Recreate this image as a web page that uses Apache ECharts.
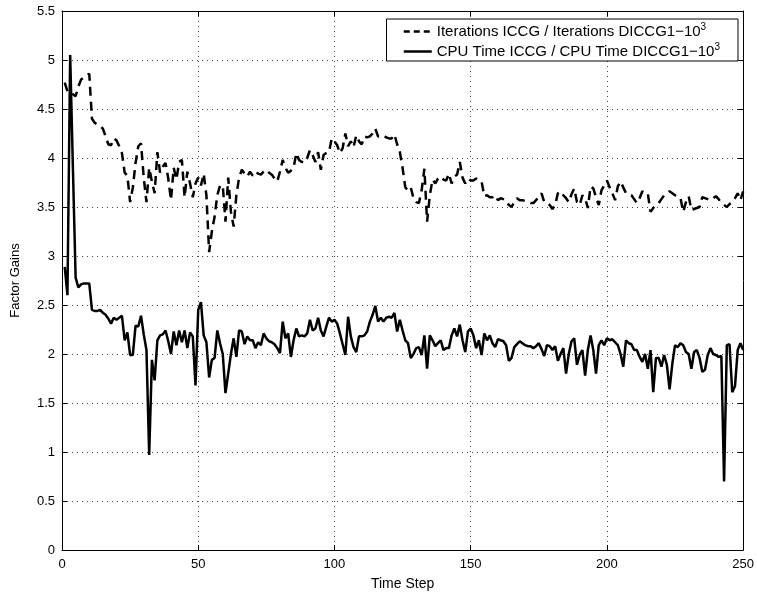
<!DOCTYPE html>
<html>
<head>
<meta charset="utf-8">
<script src="https://cdn.jsdelivr.net/npm/echarts@6/dist/echarts.min.js"></script>
<style>
  html, body { margin: 0; padding: 0; background: #fff; }
  #chart { width: 757px; height: 599px; }
</style>
</head>
<body>
<div id="chart"></div>
<script>
// ratio of iterations ICCG / DICCG1-10^3, time steps 1..250
const iterRatio = [
  4.77, 4.68, 4.68, 4.65, 4.63, 4.73, 4.80, 4.82, 4.84, 4.86,
  4.40, 4.36, 4.34, 4.33, 4.30, 4.22, 4.14, 4.13, 4.20, 4.18,
  4.12, 4.05, 3.85, 3.82, 3.55, 3.70, 3.95, 4.12, 4.15, 3.80,
  3.55, 3.90, 3.76, 3.64, 4.06, 3.85, 3.91, 3.95, 3.79, 3.57,
  3.90, 3.78, 3.96, 3.98, 3.60, 3.86, 3.74, 3.60, 3.74, 3.80,
  3.72, 3.84, 3.62, 3.04, 3.25, 3.40, 3.62, 3.72, 3.72, 3.35,
  3.80, 3.45, 3.30, 3.62, 3.80, 3.88, 3.84, 3.81, 3.86, 3.82,
  3.86, 3.84, 3.83, 3.86, 3.88, 3.85, 3.83, 3.79, 3.76, 3.86,
  3.98, 3.90, 3.85, 3.87, 3.90, 4.05, 3.98, 3.96, 3.95, 4.00,
  4.08, 4.03, 3.96, 4.06, 3.88, 4.03, 4.05, 4.06, 4.20, 4.17,
  4.13, 4.05, 4.10, 4.25, 4.12, 4.17, 4.11, 4.23, 4.17, 4.14,
  4.22, 4.21, 4.22, 4.25, 4.30, 4.22, 4.22, 4.23, 4.21, 4.20,
  4.20, 4.24, 4.14, 4.06, 3.90, 3.70, 3.67, 3.70, 3.59, 3.55,
  3.54, 3.67, 3.89, 3.35, 3.62, 3.78, 3.74, 3.79, 3.81, 3.78,
  3.77, 3.84, 3.74, 3.81, 3.83, 3.96, 3.80, 3.74, 3.79, 3.77,
  3.77, 3.79, 3.77, 3.76, 3.61, 3.62, 3.60, 3.60, 3.62, 3.57,
  3.59, 3.58, 3.57, 3.52, 3.50, 3.55, 3.59, 3.57, 3.57, 3.56,
  3.55, 3.54, 3.54, 3.57, 3.60, 3.64, 3.55, 3.54, 3.52, 3.48,
  3.52, 3.64, 3.66, 3.62, 3.59, 3.55, 3.63, 3.69, 3.55, 3.52,
  3.62, 3.59, 3.49, 3.71, 3.69, 3.60, 3.52, 3.67, 3.72, 3.77,
  3.70, 3.64, 3.57, 3.71, 3.76, 3.70, 3.64, 3.63, 3.62, 3.58,
  3.54, 3.59, 3.66, 3.64, 3.64, 3.45, 3.49, 3.52, 3.54, 3.58,
  3.62, 3.64, 3.66, 3.64, 3.62, 3.60, 3.59, 3.45, 3.55, 3.61,
  3.47, 3.48, 3.49, 3.50, 3.60, 3.59, 3.58, 3.57, 3.59, 3.61,
  3.58, 3.54, 3.52, 3.50, 3.53, 3.55, 3.59, 3.64, 3.57, 3.66
]

// ratio of CPU time ICCG / DICCG1-10^3
const cpuRatio = [
  2.89, 2.60, 5.05, 3.90, 2.78, 2.68, 2.71, 2.72, 2.72, 2.72,
  2.45, 2.44, 2.44, 2.45, 2.42, 2.40, 2.36, 2.31, 2.37, 2.35,
  2.37, 2.39, 2.14, 2.22, 1.99, 1.99, 2.29, 2.28, 2.39, 2.20,
  2.04, 0.97, 1.94, 1.73, 2.14, 2.19, 2.20, 2.24, 2.13, 2.00,
  2.23, 2.09, 2.24, 2.12, 2.24, 2.06, 2.22, 2.18, 1.68, 2.45,
  2.53, 2.19, 2.12, 1.76, 1.94, 1.96, 2.24, 2.11, 2.00, 1.60,
  1.80, 2.00, 2.16, 1.97, 2.24, 2.23, 2.10, 2.18, 2.14, 2.14,
  2.06, 2.12, 2.09, 2.21, 2.16, 2.13, 2.12, 2.10, 2.06, 2.01,
  2.33, 2.16, 2.21, 1.97, 2.14, 2.26, 2.18, 2.19, 2.18, 2.21,
  2.35, 2.24, 2.26, 2.37, 2.24, 2.18, 2.28, 2.37, 2.33, 2.35,
  2.31, 2.21, 2.10, 1.99, 2.38, 2.18, 2.07, 2.02, 2.18, 2.18,
  2.19, 2.23, 2.33, 2.40, 2.49, 2.33, 2.37, 2.33, 2.37, 2.38,
  2.37, 2.42, 2.23, 2.35, 2.24, 2.14, 2.11, 1.96, 2.00, 2.06,
  2.07, 1.99, 2.19, 1.85, 2.19, 2.14, 2.08, 2.11, 2.14, 2.04,
  2.06, 2.06, 2.19, 2.26, 2.18, 2.30, 2.14, 2.02, 2.23, 2.26,
  2.19, 2.06, 2.14, 1.99, 2.21, 2.14, 2.19, 2.11, 2.07, 2.15,
  2.14, 2.13, 2.09, 1.93, 1.96, 2.07, 2.10, 2.13, 2.11, 2.09,
  2.08, 2.08, 2.06, 2.08, 2.11, 2.05, 1.98, 2.09, 2.08, 2.04,
  2.08, 1.93, 2.00, 2.06, 1.80, 2.00, 2.13, 2.16, 1.89, 1.99,
  2.04, 1.78, 2.04, 2.19, 2.04, 1.80, 2.09, 2.14, 2.09, 2.16,
  2.14, 2.15, 2.12, 2.09, 2.00, 1.87, 2.14, 2.11, 2.10, 2.04,
  2.04, 1.97, 1.92, 2.00, 1.85, 2.04, 1.61, 1.96, 1.96, 1.87,
  1.99, 1.89, 1.64, 1.90, 2.09, 2.07, 2.11, 2.09, 2.02, 2.00,
  1.85, 2.02, 2.04, 1.96, 1.82, 1.84, 1.99, 2.06, 2.00, 1.99,
  1.97, 1.98, 0.70, 2.09, 2.10, 1.61, 1.67, 2.04, 2.11, 2.04
]

const seriesNames = [
  'Iterations ICCG / Iterations DICCG1\u221210',
  'CPU Time ICCG / CPU Time DICCG1\u221210'
]

const FONT = 'Liberation Sans, Arial, Helvetica, sans-serif'

const toPoints = (values) => values.map((v, i) => [i + 1, v])

const chart = echarts.init(document.getElementById('chart'))

const gridLine = { show: true, lineStyle: { color: '#444', type: [1, 4], width: 1 } }
const frameLine = { show: true, onZero: false, lineStyle: { color: '#000', width: 1 } }
const innerTick = { show: true, inside: true, length: 5, lineStyle: { color: '#000' } }

const option = {
  animation: false,
  backgroundColor: '#fff',
  grid: { left: 62, right: 10, top: 11, bottom: 49 },
  legend: {
    orient: 'vertical',
    right: 19,
    top: 19,
    padding: [3, 18, 2, 16],
    itemGap: 3,
    itemWidth: 28,
    itemHeight: 14,
    borderColor: '#000',
    borderWidth: 1,
    borderRadius: 0,
    backgroundColor: '#fff',
    itemStyle: { opacity: 0 },
    data: [
      { name: seriesNames[0], lineStyle: { type: [6, 4], width: 2.5, color: '#000' } },
      { name: seriesNames[1], lineStyle: { type: 'solid', width: 2.5, color: '#000' } }
    ],
    formatter: (name) => `{t|${name}}{s|3}`,
    textStyle: {
      rich: {
        t: { fontFamily: FONT, fontSize: 15, color: '#000', lineHeight: 19 },
        s: { fontFamily: FONT, fontSize: 10, color: '#000', verticalAlign: 'top', lineHeight: 19 }
      }
    }
  },
  xAxis: [
    {
      type: 'value', min: 0, max: 250, interval: 50,
      name: 'Time Step', nameLocation: 'middle', nameGap: 27,
      nameTextStyle: { fontFamily: FONT, fontSize: 14, color: '#000' },
      axisLine: frameLine,
      axisTick: innerTick,
      axisLabel: { fontFamily: FONT, fontSize: 13, color: '#000', margin: 8 },
      splitLine: gridLine
    },
    {
      type: 'value', min: 0, max: 250, interval: 50, position: 'top',
      axisLine: frameLine,
      axisTick: innerTick,
      axisLabel: { show: false },
      splitLine: { show: false }
    }
  ],
  yAxis: [
    {
      type: 'value', min: 0, max: 5.5, interval: 0.5,
      name: 'Factor Gains', nameLocation: 'middle', nameGap: 40,
      nameTextStyle: { fontFamily: FONT, fontSize: 13, color: '#000' },
      axisLine: frameLine,
      axisTick: innerTick,
      axisLabel: { fontFamily: FONT, fontSize: 13, color: '#000', margin: 7 },
      splitLine: gridLine
    },
    {
      type: 'value', min: 0, max: 5.5, interval: 0.5, position: 'right',
      axisLine: frameLine,
      axisTick: innerTick,
      axisLabel: { show: false },
      splitLine: { show: false }
    }
  ],
  series: [
    {
      name: seriesNames[0],
      type: 'line',
      data: toPoints(iterRatio),
      symbol: 'none',
      color: '#000',
      lineStyle: { color: '#000', width: 2.5, type: [9, 6] },
      z: 3
    },
    {
      name: seriesNames[1],
      type: 'line',
      data: toPoints(cpuRatio),
      symbol: 'none',
      color: '#000',
      lineStyle: { color: '#000', width: 2.5, type: 'solid' },
      z: 4
    }
  ]
}

chart.setOption(option)
</script>
</body>
</html>
